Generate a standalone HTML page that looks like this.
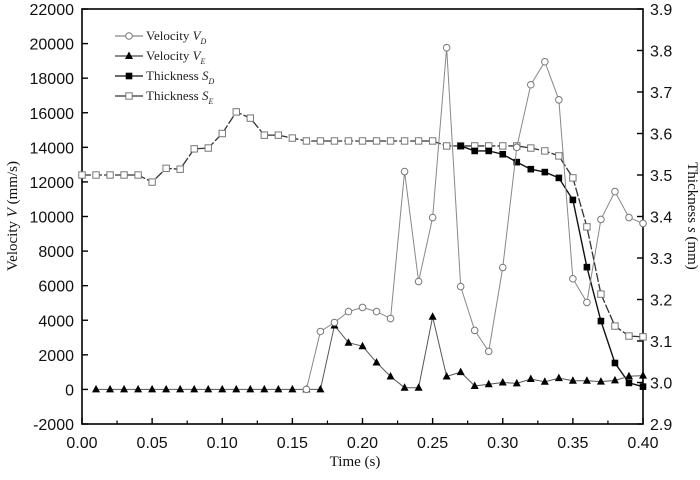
<!DOCTYPE html>
<html><head><meta charset="utf-8"><style>
body{margin:0;background:#fff}
svg text{font-family:"Liberation Sans",sans-serif}
.serif{font-family:"Liberation Serif",serif}
</style></head><body>
<svg id="chart" width="700" height="475" xmlns="http://www.w3.org/2000/svg">
<g id="plot"></g>
</svg>
<script>
const timesVD=[0.16,0.17,0.18,0.19,0.20,0.21,0.22,0.23,0.24,0.25,0.26,0.27,0.28,0.29,0.30,0.31,0.32,0.33,0.34,0.35,0.36,0.37,0.38,0.39,0.40];
const velocityVD=[0,3350,3870,4500,4740,4500,4100,12600,6240,9940,19760,5950,3410,2200,7050,14000,17620,18950,16750,6400,5030,9830,11440,9940,9600];
const timesVE=[0.01,0.02,0.03,0.04,0.05,0.06,0.07,0.08,0.09,0.10,0.11,0.12,0.13,0.14,0.15,0.16,0.17,0.18,0.19,0.20,0.21,0.22,0.23,0.24,0.25,0.26,0.27,0.28,0.29,0.30,0.31,0.32,0.33,0.34,0.35,0.36,0.37,0.38,0.39,0.40];
const velocityVE=[0,0,0,0,0,0,0,0,0,0,0,0,0,0,0,0,0,3700,2700,2500,1560,750,100,100,4200,750,1000,200,300,400,350,600,440,650,500,500,450,520,760,800];
const timesSD=[0.27,0.28,0.29,0.30,0.31,0.32,0.33,0.34,0.35,0.36,0.37,0.38,0.39,0.40];
const thicknessSD=[3.57,3.558,3.558,3.55,3.531,3.514,3.507,3.493,3.44,3.278,3.148,3.047,2.999,2.99];
const timesSE=[0.00,0.01,0.02,0.03,0.04,0.05,0.06,0.07,0.08,0.09,0.10,0.11,0.12,0.13,0.14,0.15,0.16,0.17,0.18,0.19,0.20,0.21,0.22,0.23,0.24,0.25,0.26,0.27,0.28,0.29,0.30,0.31,0.32,0.33,0.34,0.35,0.36,0.37,0.38,0.39,0.40];
const thicknessSE=[3.5,3.5,3.5,3.5,3.5,3.483,3.516,3.514,3.563,3.565,3.6,3.652,3.637,3.596,3.596,3.589,3.582,3.582,3.582,3.582,3.582,3.582,3.582,3.582,3.582,3.582,3.57,3.57,3.57,3.57,3.57,3.57,3.565,3.558,3.546,3.493,3.375,3.213,3.136,3.112,3.11];
const xTicks=["0.00","0.05","0.10","0.15","0.20","0.25","0.30","0.35","0.40"];
const yTicks=["-2000","0","2000","4000","6000","8000","10000","12000","14000","16000","18000","20000","22000"];
const y2Ticks=["2.9","3.0","3.1","3.2","3.3","3.4","3.5","3.6","3.7","3.8","3.9"];

const L=82,R=643,T=9,B=424;
const X=t=>L+(t-0)/0.4*(R-L);
const Y=v=>B-(v+2000)/24000*(B-T);
const Y2=s=>B-(s-2.9)/1.0*(B-T);
const NS="http://www.w3.org/2000/svg";
const g=document.getElementById('plot');
function mk(tag,attrs,parent){const e=document.createElementNS(NS,tag);for(const k in attrs)e.setAttribute(k,attrs[k]);(parent||g).appendChild(e);return e;}

const frame=mk('rect',{x:L,y:T,width:R-L,height:B-T,fill:'none',stroke:'#000','stroke-width':1.6});



xTicks.forEach((lab,i)=>{const v=parseFloat(lab);const x=X(v);
 const tk=mk('line',{x1:x,x2:x,y1:B,y2:B-6,stroke:'#000','stroke-width':1.4});
 
 
 if(i<xTicks.length-1){const xm=X(v+0.025);const m=mk('line',{x1:xm,x2:xm,y1:B,y2:B-3.5,stroke:'#000','stroke-width':1.2});
  
  }
 const t=mk('text',{x:x,y:B+24,'text-anchor':'middle','font-size':16,fill:'#111'});t.textContent=lab;
 
 
});
yTicks.forEach(lab=>{const y=Y(parseFloat(lab));
 const tk=mk('line',{x1:L,x2:L+6,y1:y,y2:y,stroke:'#000','stroke-width':1.4});
 
 
 const t=mk('text',{x:L-8,y:y+6,'text-anchor':'end','font-size':16,fill:'#111'});t.textContent=lab;
 
 
});
y2Ticks.forEach(lab=>{const y=Y2(parseFloat(lab));
 const tk=mk('line',{x1:R,x2:R-6,y1:y,y2:y,stroke:'#000','stroke-width':1.4});
 
 
 const t=mk('text',{x:R+7,y:y+6,'text-anchor':'start','font-size':16,fill:'#111'});t.textContent=lab;
 
 
});

function series(xs,ys,yf,color,marker,name,w,dash){
 const pts=xs.map((t,i)=>X(t)+','+yf(ys[i])).join(' ');
 const pl=mk('polyline',{points:pts,fill:'none',stroke:color,'stroke-width':w,'stroke-dasharray':dash||'none'});
 
 
 xs.forEach((t,i)=>{drawMarker(X(t),yf(ys[i]),marker,name);});
}
function drawMarker(x,y,marker,name,parent){
 let m;
 if(marker==='circle')m=mk('circle',{cx:x,cy:y,r:3.3,fill:'#fff',stroke:'#777','stroke-width':1},parent);
 else if(marker==='tri')m=mk('polygon',{points:`${x},${y-4.5} ${x-4},${y+3} ${x+4},${y+3}`,fill:'#000'},parent);
 else if(marker==='fsq')m=mk('rect',{x:x-3.3,y:y-3.3,width:6.6,height:6.6,fill:'#000'},parent);
 else m=mk('rect',{x:x-3.2,y:y-3.2,width:6.4,height:6.4,fill:'#fff',stroke:'#777','stroke-width':1},parent);
 
 
}
series(timesSE,thicknessSE,Y2,'#333','osq','thickness-se',1.3,'9,2');
series(timesSD,thicknessSD,Y2,'#111','fsq','thickness-sd',1.4);
series(timesVE,velocityVE,Y,'#555','tri','velocity-ve',1);
series(timesVD,velocityVD,Y,'#888','circle','velocity-vd',1);

const leg=mk('g',{});


const legItems=[['circle','#888','Velocity V','D'],['tri','#444','Velocity V','E'],['fsq','#111','Thickness S','D'],['osq','#333','Thickness S','E']];
legItems.forEach((it,i)=>{const y=36+i*20;
 const ln=mk('line',{x1:115,x2:143,y1:y,y2:y,stroke:it[1],'stroke-width':1.2},leg);
 
 
 drawMarker(129,y,it[0],'legend',leg);
 const t=mk('text',{x:146,y:y+4,'font-size':13,fill:'#222',class:'serif'},leg);
 const parts=it[2].split(' ');
 t.textContent=parts[0]+' ';
 const ts=mk('tspan',{'font-style':'italic'},t);ts.textContent=parts[1];
 const sub=mk('tspan',{'font-size':8,dy:4,'font-style':'italic'},t);sub.textContent=it[3];
 
 
});

const xt=mk('text',{x:355,y:466,'text-anchor':'middle','font-size':15,class:'serif',fill:'#111'});xt.textContent='Time (s)';


const yt=mk('text',{x:0,y:0,'text-anchor':'middle','font-size':15,class:'serif',fill:'#111',transform:'translate(17,216) rotate(-90)'});
yt.textContent='Velocity ';const yv=mk('tspan',{'font-style':'italic'},yt);yv.textContent='V';const yu=mk('tspan',{},yt);yu.textContent=' (mm/s)';


const y2t=mk('text',{x:0,y:0,'text-anchor':'middle','font-size':15,class:'serif',fill:'#111',transform:'translate(688,216) rotate(90)'});
y2t.textContent='Thickness ';const ys=mk('tspan',{'font-style':'italic'},y2t);ys.textContent='s';const yu2=mk('tspan',{},y2t);yu2.textContent=' (mm)';


</script>
</body></html>
